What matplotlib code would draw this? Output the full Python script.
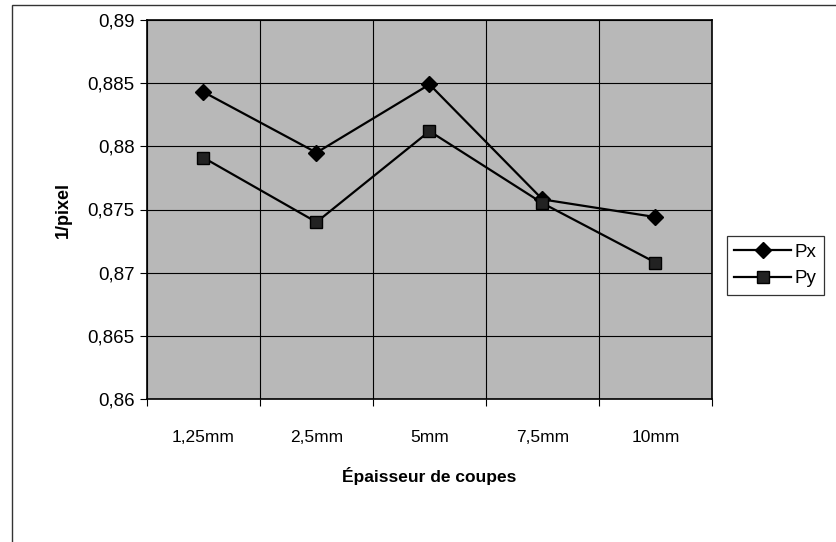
import numpy as np
import matplotlib.pyplot as plt
from matplotlib.patches import Rectangle
from matplotlib.ticker import FixedLocator, FuncFormatter

plt.rcParams['font.family'] = ['Liberation Sans', 'DejaVu Sans']

categories = ['1,25mm', '2,5mm', '5mm', '7,5mm', '10mm']
px = [0.8843, 0.8795, 0.8849, 0.8758, 0.8744]
py = [0.8791, 0.8740, 0.8812, 0.8755, 0.8708]

fig = plt.figure(figsize=(8.37, 5.42), dpi=100)
fig.patch.set_facecolor('white')

# outer chart frame, cut off on the right and bottom
fig.patches.append(Rectangle((12 / 837, -0.05), 1.0, 1.05 - 5 / 542,
                             transform=fig.transFigure, fill=False,
                             edgecolor='#333333', linewidth=1.0))

ax = fig.add_axes([147 / 837, 1 - 399 / 542, (712 - 147) / 837, (399 - 20) / 542])
ax.set_facecolor('#b8b8b8')

x = np.arange(len(categories))
ax.plot(x, px, color='black', linewidth=1.6, marker='D', markersize=8,
        markerfacecolor='black', markeredgecolor='black', label='Px')
ax.plot(x, py, color='black', linewidth=1.6, marker='s', markersize=9,
        markerfacecolor='#222222', markeredgecolor='black', label='Py')

ax.set_xlim(-0.5, len(categories) - 0.5)
ax.set_ylim(0.86, 0.89)

# category boundaries get the ticks and gridlines, centres get the labels
ax.xaxis.set_major_locator(FixedLocator(np.arange(-0.5, len(categories), 1.0)))
ax.xaxis.set_major_formatter(FuncFormatter(lambda v, p: ''))
ax.xaxis.set_minor_locator(FixedLocator(x))
ax.set_xticklabels(categories, minor=True)
ax.tick_params(axis='x', which='minor', length=0, pad=22, labelsize=12.5)
ax.tick_params(axis='x', which='major', length=5, direction='out', color='black')

yticks = np.arange(0.86, 0.8901, 0.005)
ax.set_yticks(yticks)
ax.yaxis.set_major_formatter(FuncFormatter(lambda v, p: ('%g' % round(v, 3)).replace('.', ',')))
ax.tick_params(axis='y', length=5, direction='out', labelsize=13.5, pad=4)

ax.grid(True, which='major', color='black', linewidth=0.8)
ax.set_axisbelow(True)

for s in ax.spines.values():
    s.set_color('black')
    s.set_linewidth(1.2)

ax.set_xlabel('Épaisseur de coupes', fontsize=12.5, fontweight='bold', labelpad=16)
ax.set_ylabel('1/pixel', fontsize=13, fontweight='bold', labelpad=11)

leg = ax.legend(loc='upper left', bbox_to_anchor=(727 / 837, 1 - 236 / 542),
                bbox_transform=fig.transFigure, frameon=True,
                fancybox=False, edgecolor='black', fontsize=13.5,
                handlelength=3.0, handletextpad=0.2, borderpad=0.4,
                labelspacing=0.5, borderaxespad=0.0)
leg.get_frame().set_linewidth(0.9)

fig.savefig('out.png', dpi=100)
